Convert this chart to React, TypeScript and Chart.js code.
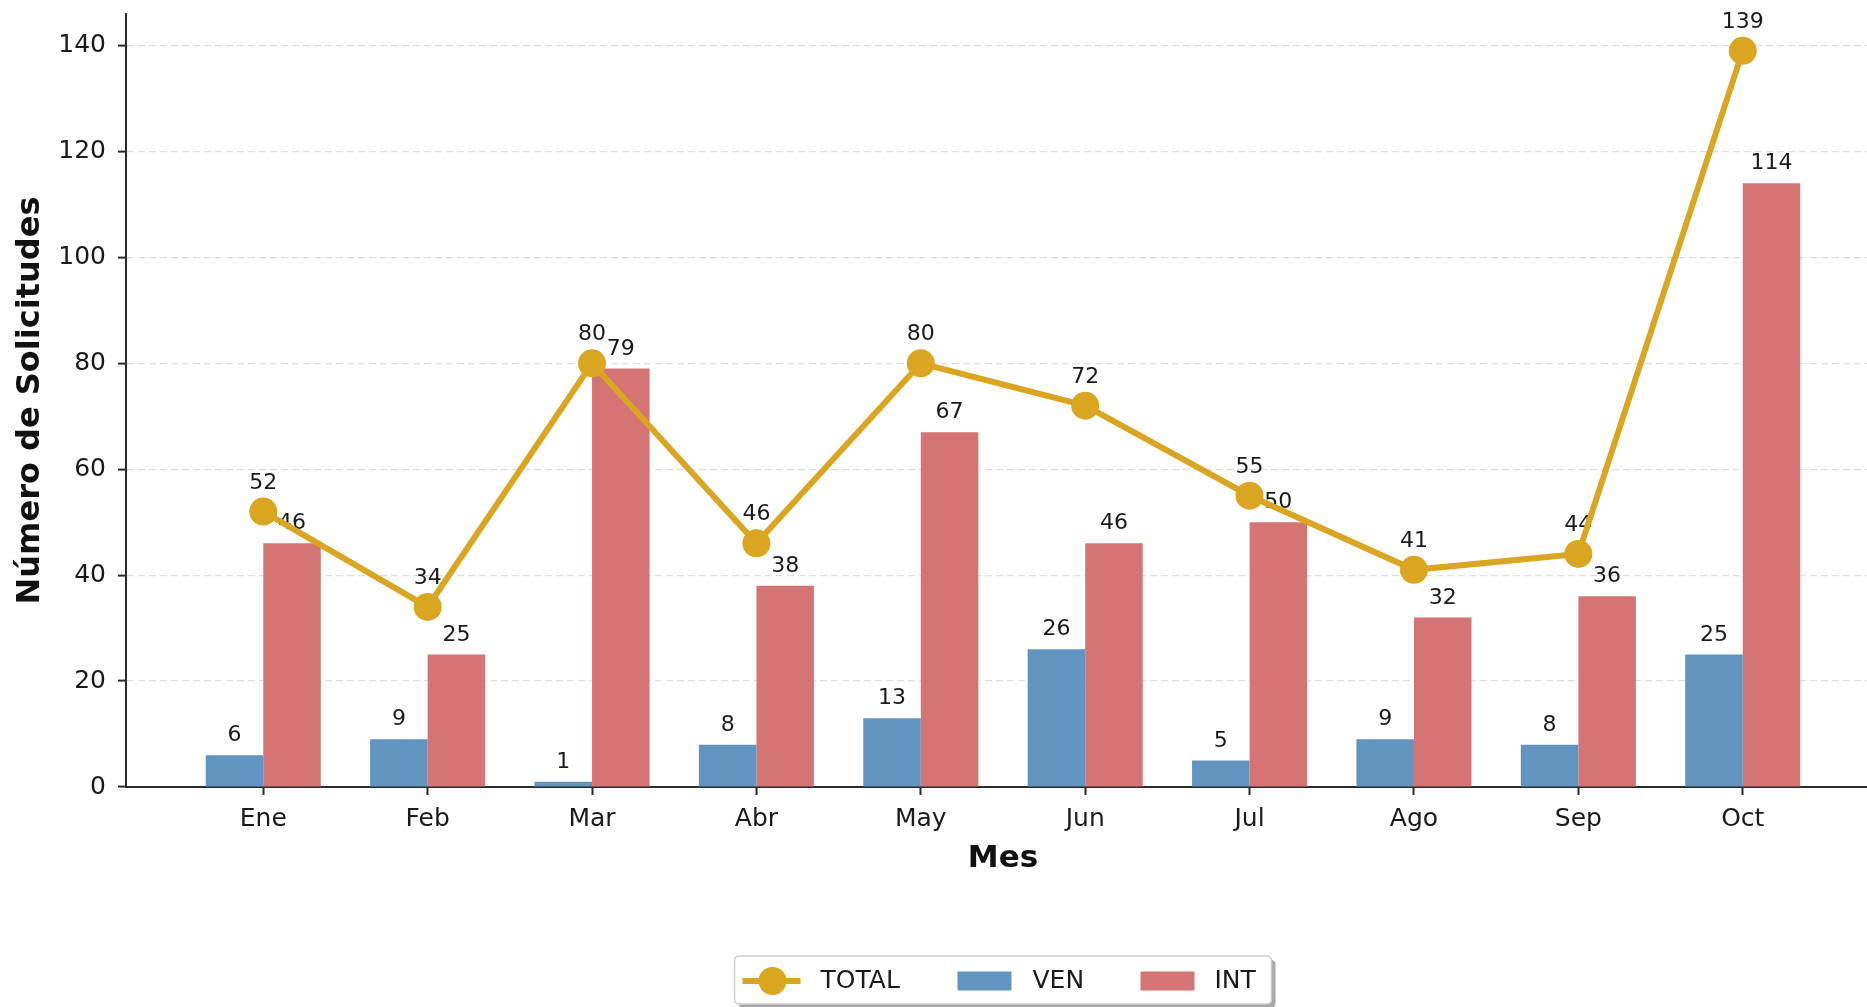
import React, { useEffect, useRef } from "react";
import { Chart, registerables } from "chart.js";

Chart.register(...registerables);

const months = ["Ene", "Feb", "Mar", "Abr", "May", "Jun", "Jul", "Ago", "Sep", "Oct"];
const totalValues = [52, 34, 80, 46, 80, 72, 55, 41, 44, 139];
const venValues = [6, 9, 1, 8, 13, 26, 5, 9, 8, 25];
const intValues = [46, 25, 79, 38, 67, 46, 50, 32, 36, 114];
const yTicks = [0, 20, 40, 60, 80, 100, 120, 140];
const seriesNames = ["TOTAL", "VEN", "INT"];

const FONT = "'DejaVu Sans', sans-serif";
const C_TOTAL = "#DAA520";
const C_VEN = "#6195BF";
const C_INT = "#D57474";
const C_TEXT = "#1a1a1a";
const C_AXIS = "#2b2b2b";

const labelsPlugin = {
  id: "valueLabels",
  beforeDatasetDraw(chart: any, args: any) {
    if (args.index !== 0) return;
    const ctx = chart.ctx;
    ctx.save();
    ctx.font = `22px ${FONT}`;
    ctx.fillStyle = C_TEXT;
    ctx.textAlign = "center";
    ctx.textBaseline = "alphabetic";
    [1, 2].forEach((di) => {
      const meta = chart.getDatasetMeta(di);
      const vals = chart.data.datasets[di].data;
      meta.data.forEach((el: any, i: number) => {
        ctx.fillText(String(vals[i].y), el.x, el.y - 14);
      });
    });
    const lm = chart.getDatasetMeta(0);
    const lv = chart.data.datasets[0].data;
    lm.data.forEach((el: any, i: number) => {
      ctx.fillText(String(lv[i].y), el.x, el.y - 23);
    });
    ctx.restore();
  },
};

const legendPlugin = {
  id: "customLegend",
  afterDraw(chart: any) {
    const ctx = chart.ctx;
    const ca = chart.chartArea;
    const cx = (ca.left + ca.right) / 2;
    const w = 537;
    const h = 48;
    const left = cx - w / 2;
    const top = 956;
    const cy = top + h / 2 + 1;
    const rr = (x: number, y: number, ww: number, hh: number, r: number) => {
      ctx.beginPath();
      ctx.moveTo(x + r, y);
      ctx.lineTo(x + ww - r, y);
      ctx.quadraticCurveTo(x + ww, y, x + ww, y + r);
      ctx.lineTo(x + ww, y + hh - r);
      ctx.quadraticCurveTo(x + ww, y + hh, x + ww - r, y + hh);
      ctx.lineTo(x + r, y + hh);
      ctx.quadraticCurveTo(x, y + hh, x, y + hh - r);
      ctx.lineTo(x, y + r);
      ctx.quadraticCurveTo(x, y, x + r, y);
      ctx.closePath();
    };
    ctx.save();
    rr(left + 4, top + 4, w, h, 5);
    ctx.fillStyle = "rgba(0,0,0,0.35)";
    ctx.fill();
    rr(left, top, w, h, 5);
    ctx.fillStyle = "#ffffff";
    ctx.fill();
    ctx.strokeStyle = "#cfcfcf";
    ctx.lineWidth = 1.5;
    ctx.stroke();

    ctx.strokeStyle = C_TOTAL;
    ctx.lineWidth = 6;
    ctx.beginPath();
    ctx.moveTo(left + 8, cy);
    ctx.lineTo(left + 66, cy);
    ctx.stroke();
    ctx.fillStyle = C_TOTAL;
    ctx.beginPath();
    ctx.arc(left + 38, cy, 14, 0, Math.PI * 2);
    ctx.fill();

    ctx.fillStyle = C_VEN;
    ctx.fillRect(left + 223, cy - 9.5, 54, 19);
    ctx.fillStyle = C_INT;
    ctx.fillRect(left + 406, cy - 9.5, 54, 19);

    ctx.fillStyle = C_TEXT;
    ctx.font = `25px ${FONT}`;
    ctx.textAlign = "left";
    ctx.textBaseline = "middle";
    ctx.fillText(seriesNames[0], left + 86, cy);
    ctx.fillText(seriesNames[1], left + 298, cy);
    ctx.fillText(seriesNames[2], left + 480, cy);
    ctx.restore();
  },
};

export default function App() {
  const ref = useRef<HTMLCanvasElement | null>(null);

  useEffect(() => {
    if (!ref.current) return;
    Chart.defaults.font.family = FONT;
    const chart = new Chart(ref.current, {
      type: "bar",
      data: {
        datasets: [
          {
            type: "line",
            label: seriesNames[0],
            data: totalValues.map((v, i) => ({ x: i, y: v })),
            borderColor: C_TOTAL,
            backgroundColor: C_TOTAL,
            borderWidth: 6,
            pointRadius: 14,
            pointBackgroundColor: C_TOTAL,
            pointBorderWidth: 0,
            tension: 0,
            clip: false,
          } as any,
          {
            type: "bar",
            label: seriesNames[1],
            data: venValues.map((v, i) => ({ x: i, y: v })),
            backgroundColor: C_VEN,
            borderWidth: 0,
            categoryPercentage: 0.7,
            barPercentage: 1.0,
          },
          {
            type: "bar",
            label: seriesNames[2],
            data: intValues.map((v, i) => ({ x: i, y: v })),
            backgroundColor: C_INT,
            borderWidth: 0,
            categoryPercentage: 0.7,
            barPercentage: 1.0,
          },
        ],
      },
      options: {
        animation: false,
        responsive: false,
        devicePixelRatio: 1,
        layout: { autoPadding: false, padding: { top: 14, left: 0, right: 0, bottom: 0 } },
        plugins: {
          legend: { display: false },
          tooltip: { enabled: false },
        },
        scales: {
          x: {
            type: "linear",
            offset: false,
            min: -0.835,
            max: 9.835,
            afterBuildTicks: (s: any) => {
              s.ticks = months.map((_, i) => ({ value: i }));
            },
            afterFit: (s: any) => {
              s.height = 220;
              s.paddingLeft = 0;
              s.paddingRight = 0;
            },
            ticks: {
              callback: (v: any) => months[v] ?? "",
              font: { size: 25 },
              color: C_TEXT,
              padding: 9,
              autoSkip: false,
              maxRotation: 0,
            },
            grid: {
              display: true,
              offset: false,
              drawOnChartArea: false,
              drawTicks: true,
              tickLength: 8,
              tickWidth: 2,
              tickColor: C_AXIS,
            },
            border: { display: true, color: C_AXIS, width: 2 },
            title: {
              display: true,
              text: "Mes",
              font: { size: 31, weight: "bold" },
              color: "#111",
              padding: { top: 0, bottom: 129 },
            },
          },
          y: {
            min: 0,
            max: 145.95,
            afterBuildTicks: (s: any) => {
              s.ticks = yTicks.map((v) => ({ value: v }));
            },
            afterFit: (s: any) => {
              s.width = 126;
              s.paddingTop = 0;
              s.paddingBottom = 0;
            },
            ticks: { font: { size: 25 }, color: C_TEXT, padding: 12 },
            grid: {
              color: "#dedede",
              lineWidth: 1.2,
              drawTicks: true,
              tickLength: 8,
              tickWidth: 2,
              tickColor: C_AXIS,
            },
            border: { display: true, color: C_AXIS, width: 2, dash: [7, 4] },
            title: {
              display: true,
              text: "Número de Solicitudes",
              font: { size: 32, weight: "bold" },
              color: "#111",
              padding: { top: 11, bottom: 0 },
            },
          },
        },
      } as any,
      plugins: [labelsPlugin, legendPlugin],
    });
    return () => chart.destroy();
  }, []);

  return (
    <div
      style={{
        position: "fixed",
        left: 0,
        top: 0,
        width: 1867,
        height: 1007,
        overflow: "hidden",
        background: "#ffffff",
      }}
    >
      <canvas ref={ref} width={1880} height={1007} style={{ display: "block" }} />
    </div>
  );
}
